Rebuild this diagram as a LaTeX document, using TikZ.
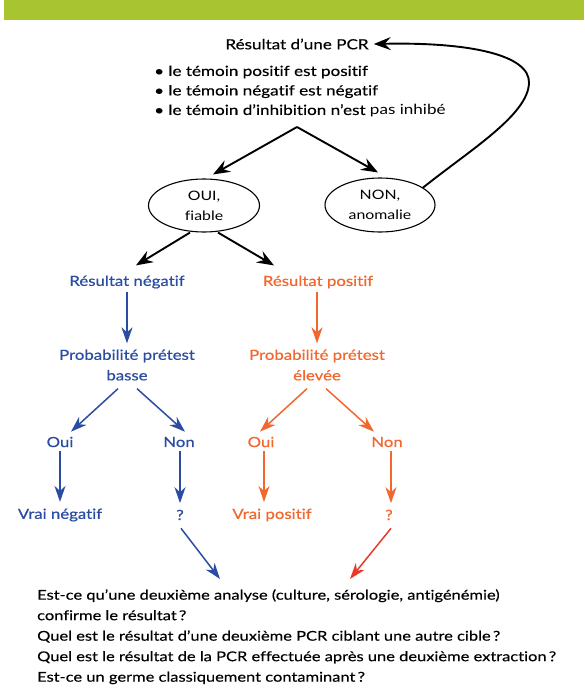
\documentclass[tikz,border=0pt]{standalone}
\usepackage{fontspec}
\setmainfont{Lato}[FakeStretch=1.22, FakeBold=0.3, Ligatures={TeX,NoCommon}]
\newfontfamily\lightfont{Lato}[FakeStretch=1.22, Ligatures={TeX,NoCommon}]
\newfontfamily\colfont{Lato}[FakeStretch=1.2, FakeBold=0.6, Ligatures={TeX,NoCommon}]
\usetikzlibrary{arrows.meta,shapes.geometric}
\definecolor{barg}{RGB}{168,196,48}
\definecolor{pblue}{RGB}{42,76,163}
\definecolor{porange}{RGB}{241,103,45}
\definecolor{pred}{RGB}{232,58,42}
\tikzset{
  lbl/.style={inner sep=0pt, font=\fontsize{14}{19.5}\selectfont},
  collbl/.style={inner sep=0pt, font=\colfont\fontsize{14}{20.5}\selectfont},
  bluelbl/.style={collbl, text=pblue},
  orlbl/.style={collbl, text=porange},
  blkarrow/.style={draw=black, line width=1.9pt, -{Stealth[length=17pt,width=13pt,inset=6pt]}},
  bluearrow/.style={draw=pblue, line width=1.5pt, -{Stealth[length=16pt,width=11pt,inset=5pt]}},
  orarrow/.style={draw=porange, line width=1.5pt, -{Stealth[length=16pt,width=11pt,inset=5pt]}},
  redarrow/.style={draw=pred, line width=1.5pt, -{Stealth[length=16pt,width=11pt,inset=5pt]}},
  oval/.style={ellipse, draw, line width=1.1pt, minimum width=111pt, minimum height=53pt, inner sep=0pt, align=center, font=\lightfont\fontsize{13}{20}\selectfont}
}
\begin{document}
\begin{tikzpicture}[x=1pt,y=-1pt]
\useasboundingbox (0,0) rectangle (584,690);
\fill[barg] (4,0) rectangle (584,20);

\node[lbl] (title) at (297,44) {Résultat d’une PCR};
\node[lbl, align=left, anchor=west] (crit) at (154,91.5)
  {• le témoin positif est positif\\
   • le témoin négatif est négatif\\
   • le témoin d’inhibition n’est {\lightfont pas inhibé}};
\coordinate (split) at (297,127);

\node[oval] (oui) at (204,205.5) {OUI,\\fiable};
\node[oval, minimum width=110pt, minimum height=54pt] (non) at (380,205) {NON,\\anomalie};

\node[bluelbl] (neg) at (127,282) {Résultat négatif};
\node[orlbl] (pos) at (318,282) {Résultat positif};

\node[bluelbl, align=center] (probneg) at (127,365) {Probabilité prétest\\basse};
\node[orlbl, align=center] (probpos) at (317,365) {Probabilité prétest\\élevée};

\node[bluelbl] (bOui) at (60,442) {Oui};
\node[bluelbl] (bNon) at (179,442) {Non};
\node[orlbl] (oOui) at (261,442) {Oui};
\node[orlbl] (oNon) at (387,442) {Non};

\node[bluelbl] (vneg) at (60,515) {Vrai négatif};
\node[bluelbl] (bq) at (180,515) {?};
\node[orlbl] (vpos) at (272,515) {Vrai positif};
\node[orlbl] (oq) at (389,515) {?};

\node[lbl, align=left, anchor=north west, font=\fontsize{13.5}{20.5}\selectfont] (quest) at (37,589)
  {Est-ce qu'une deuxième analyse (culture, sérologie, antigénémie)\\
   confirme le résultat\,?\\
   Quel est le résultat d'une deuxième PCR ciblant une autre cible\,?\\
   Quel est le résultat de la PCR effectuée après une deuxième extraction\,?\\
   Est-ce un germe classiquement contaminant\,?};

% black arrows
\draw[blkarrow] (split) -- ([xshift=9pt,yshift=4pt]oui.north);
\draw[blkarrow] (split) -- ([xshift=-2pt,yshift=5pt]non.north);
\draw[blkarrow] (non.22) .. controls (470,150) and (528,115) .. (529,83)
   .. controls (530,55) and (470,42) .. ([xshift=5pt]title.east);
\draw[blkarrow] ([xshift=-14pt]oui.south) -- ([xshift=9pt,yshift=10pt]neg.north);
\draw[blkarrow] ([xshift=14pt]oui.south) -- ([xshift=-44pt,yshift=10pt]pos.north);

% blue branch
\draw[bluearrow] ([yshift=-3pt]neg.south) -- ([yshift=6pt]probneg.north);
\draw[bluearrow] ([xshift=-9pt,yshift=-8pt]probneg.south) -- ([xshift=11pt,yshift=5pt]bOui.north);
\draw[bluearrow] ([xshift=10pt,yshift=-8pt]probneg.south) -- ([xshift=6pt,yshift=5pt]bNon.north);
\draw[bluearrow] ([yshift=-3.5pt]bOui.south) -- ([yshift=6.5pt]vneg.north);
\draw[bluearrow] ([xshift=1pt,yshift=-3.5pt]bNon.south) -- ([yshift=6.5pt]bq.north);
\draw[bluearrow] ([xshift=1pt,yshift=-8pt]bq.south) -- ([xshift=183pt,yshift=10pt]quest.north west);

% orange branch
\draw[orarrow] ([xshift=-1pt,yshift=-3pt]pos.south) -- ([yshift=6pt]probpos.north);
\draw[orarrow] ([xshift=-10pt,yshift=-8pt]probpos.south) -- ([xshift=-1pt,yshift=5pt]oOui.north);
\draw[orarrow] ([xshift=9pt,yshift=-8pt]probpos.south) -- ([xshift=-13pt,yshift=5pt]oNon.north);
\draw[orarrow] ([xshift=3pt,yshift=-3.5pt]oOui.south) -- ([xshift=-8pt,yshift=6.5pt]vpos.north);
\draw[orarrow] ([xshift=4pt,yshift=-3.5pt]oNon.south) -- ([xshift=2pt,yshift=6.5pt]oq.north);
\draw[redarrow] ([xshift=2pt,yshift=-8pt]oq.south) -- ([xshift=313pt,yshift=10pt]quest.north west);
\end{tikzpicture}
\end{document}
